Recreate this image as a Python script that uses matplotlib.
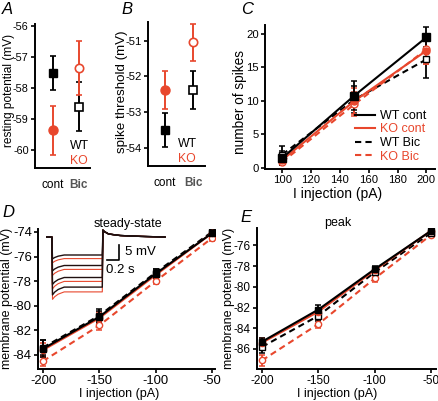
import matplotlib
matplotlib.use("Agg")
import matplotlib.pyplot as plt
from matplotlib.lines import Line2D
from matplotlib import font_manager
import numpy as np

plt.rcParams['font.family'] = ['Liberation Sans', 'DejaVu Sans']
plt.rcParams['font.size'] = 9
plt.rcParams['axes.unicode_minus'] = False

try:
    font_manager.findfont('Liberation Sans Narrow', fallback_to_default=False)
    NARROW = 'Liberation Sans Narrow'
    NSCALE = 1.0
except Exception:
    NARROW = 'Liberation Sans'
    NSCALE = 0.85

RED = '#E8472D'
BLK = '#000000'

# ---------------- data ----------------
# Panel A: resting potential (mV)
A_groups = ['cont', 'Bic']
A_wt = [-57.52, -58.60]
A_wt_err = [0.54, 0.78]
A_ko = [-59.37, -57.36]
A_ko_err = [0.79, 0.87]

# Panel B: spike threshold (mV)
B_wt = [-53.49, -52.38]
B_wt_err = [0.48, 0.54]
B_ko = [-52.38, -51.05]
B_ko_err = [0.54, 0.51]

# Panel C: number of spikes vs I injection
C_x = [100, 150, 200]
C_wt_cont = [1.5, 10.8, 19.5]
C_wt_cont_err = [1.0, 2.2, 1.5]
C_ko_cont = [1.2, 10.0, 17.5]
C_ko_cont_err = [0.6, 2.0, 2.0]
C_wt_bic = [2.0, 10.2, 16.2]
C_wt_bic_err = [1.3, 2.0, 2.8]
C_ko_bic = [0.9, 9.5, 17.7]
C_ko_bic_err = [0.5, 1.8, 2.2]

# Panel D: steady-state membrane potential
DE_x = [-200, -150, -100, -50]
D_wt_cont = [-83.5, -80.9, -77.4, -74.1]
D_wt_cont_err = [0.7, 0.5, 0.35, 0.25]
D_ko_cont = [-83.6, -81.0, -77.5, -74.1]
D_ko_cont_err = [0.6, 0.5, 0.3, 0.2]
D_wt_bic = [-83.4, -80.8, -77.3, -74.0]
D_wt_bic_err = [0.6, 0.5, 0.3, 0.2]
D_ko_bic = [-84.5, -81.6, -78.0, -74.5]
D_ko_bic_err = [0.4, 0.35, 0.25, 0.2]

# Panel E: peak membrane potential
E_wt_cont = [-85.3, -82.2, -78.3, -74.6]
E_wt_cont_err = [0.4, 0.4, 0.3, 0.2]
E_ko_cont = [-85.4, -82.4, -78.4, -74.6]
E_ko_cont_err = [0.5, 0.4, 0.3, 0.2]
E_wt_bic = [-85.8, -82.8, -78.6, -74.8]
E_wt_bic_err = [0.6, 0.5, 0.3, 0.2]
E_ko_bic = [-87.1, -83.6, -79.2, -75.0]
E_ko_bic_err = [0.5, 0.4, 0.3, 0.2]

# Inset traces (relative mV): steady level and initial sag per step
trace_black_level = [-6.0, -9.5, -13.5, -16.7]
trace_black_sag = [-7.3, -11.3, -15.8, -19.3]
trace_red_level = [-7.2, -10.8, -14.8, -18.3]
trace_red_sag = [-8.6, -12.8, -17.3, -20.8]
trace_t = [0.03, 0.115, 0.125, 0.16, 0.22, 0.32, 0.50, 0.955, 0.965, 0.99, 1.06, 1.25, 1.60, 2.00]

# ---------------- figure ----------------
W, H = 438, 401
fig = plt.figure(figsize=(W / 100, H / 100), dpi=100)


def ax_px(l, t, r, b):
    return fig.add_axes([l / W, 1 - b / H, (r - l) / W, (b - t) / H])


def style(ax, fs):
    for s in ['top', 'right']:
        ax.spines[s].set_visible(False)
    for s in ['left', 'bottom']:
        ax.spines[s].set_linewidth(1.4)
    ax.tick_params(direction='out', length=3, width=1.2, labelsize=fs * NSCALE, pad=1.5)


def narrow_ticks(ax, which='both'):
    lbls = []
    if which in ('both', 'y'):
        lbls += ax.get_yticklabels()
    if which in ('both', 'x'):
        lbls += ax.get_xticklabels()
    for t in lbls:
        t.set_fontfamily(NARROW)


def panel_letter(x, y, s):
    fig.text(x / W, 1 - y / H, s, fontsize=12, style='italic', ha='left', va='center')


def ylab(ax, s, x_px, y_px, fs):
    ax.set_ylabel(s, fontsize=fs)
    ax.yaxis.set_label_coords(x_px / W, 1 - y_px / H, transform=fig.transFigure)
    ax.yaxis.label.set_verticalalignment('center')


def xlab(ax, s, x_px, y_px, fs):
    ax.set_xlabel(s, fontsize=fs)
    ax.xaxis.set_label_coords(x_px / W, 1 - y_px / H, transform=fig.transFigure)
    ax.xaxis.label.set_verticalalignment('center')


def group_panel(ax, wt, wt_err, ko, ko_err):
    xs = np.arange(len(A_groups))
    ek = dict(capsize=2, elinewidth=1.4, capthick=1.2, ls='none')
    ax.errorbar(xs[0], wt[0], yerr=wt_err[0], color=BLK, marker='s', ms=6, mfc=BLK, mec=BLK, **ek)
    ax.errorbar(xs[1], wt[1], yerr=wt_err[1], color=BLK, marker='s', ms=6, mfc='white', mec=BLK, mew=1.2, **ek)
    ax.errorbar(xs[0], ko[0], yerr=ko_err[0], color=RED, marker='o', ms=6.5, mfc=RED, mec=RED, **ek)
    ax.errorbar(xs[1], ko[1], yerr=ko_err[1], color=RED, marker='o', ms=6, mfc='white', mec=RED, mew=1.2, **ek)
    ax.set_xticks(xs)
    ax.set_xticklabels(A_groups, fontsize=8.5)
    ax.tick_params(axis='x', length=0, pad=8)
    lbls = ax.get_xticklabels()
    lbls[1].set_fontweight('bold')
    lbls[1].set_color('#555555')


# Panel A
axA = ax_px(35, 24, 90, 168)
style(axA, 9.2)
group_panel(axA, A_wt, A_wt_err, A_ko, A_ko_err)
axA.set_xlim(-0.67, 1.42)
axA.set_ylim(-60.58, -55.94)
axA.set_yticks([-56, -57, -58, -59, -60])
narrow_ticks(axA, 'y')
ylab(axA, 'resting potential (mV)', 9.5, 90, 8.6)
fig.text(79 / W, 1 - 146 / H, 'WT', ha='center', va='center', fontsize=8.8, color=BLK)
fig.text(79 / W, 1 - 161 / H, 'KO', ha='center', va='center', fontsize=8.8, color=RED)
panel_letter(2, 9, 'A')

# Panel B
axB = ax_px(148, 22, 205, 166)
style(axB, 9.5)
group_panel(axB, B_wt, B_wt_err, B_ko, B_ko_err)
axB.set_xlim(-0.6, 1.42)
axB.set_ylim(-54.5, -50.48)
axB.set_yticks([-51, -52, -53, -54])
narrow_ticks(axB, 'y')
ylab(axB, 'spike threshold (mV)', 122.5, 92, 9.6)
fig.text(187 / W, 1 - 144 / H, 'WT', ha='center', va='center', fontsize=8.8, color=BLK)
fig.text(187 / W, 1 - 159 / H, 'KO', ha='center', va='center', fontsize=8.8, color=RED)
panel_letter(121, 9, 'B')

# Panel C
axC = ax_px(265, 25, 435, 169)
style(axC, 9.5)
ek = dict(capsize=2, elinewidth=1.3, capthick=1.1)
axC.errorbar(C_x, C_wt_bic, yerr=C_wt_bic_err, color=BLK, ls='--', lw=1.5, marker='s', ms=5, mfc='white', mec=BLK, **ek, dashes=(3, 2))
axC.errorbar(C_x, C_ko_bic, yerr=C_ko_bic_err, color=RED, ls='--', lw=1.5, marker='o', ms=5, mfc='white', mec=RED, **ek, dashes=(3, 2))
axC.errorbar(C_x, C_ko_cont, yerr=C_ko_cont_err, color=RED, ls='-', lw=1.5, marker='o', ms=5, mfc=RED, mec=RED, **ek)
axC.errorbar(C_x, C_wt_cont, yerr=C_wt_cont_err, color=BLK, ls='-', lw=1.5, marker='s', ms=5.5, mfc=BLK, mec=BLK, **ek)
axC.set_xlim(88, 206)
axC.set_ylim(-0.15, 21.34)
axC.set_xticks([100, 120, 140, 160, 180, 200])
axC.set_yticks([0, 5, 10, 15, 20])
narrow_ticks(axC)
xlab(axC, 'I injection (pA)', 338, 194, 10)
ylab(axC, 'number of spikes', 240, 102, 9.8)
handles = [Line2D([], [], color=BLK, lw=1.5),
           Line2D([], [], color=RED, lw=1.5),
           Line2D([], [], color=BLK, lw=1.5, ls='--', dashes=(3, 2)),
           Line2D([], [], color=RED, lw=1.5, ls='--', dashes=(3, 2))]
leg = axC.legend(handles, ['WT cont', 'KO cont', 'WT Bic', 'KO Bic'], frameon=False,
                 loc='upper left', bbox_to_anchor=(355 / W, 1 - 110 / H), bbox_transform=fig.transFigure,
                 handlelength=1.6, handletextpad=0.4, labelspacing=0.12, fontsize=9,
                 borderaxespad=0, borderpad=0)
for txt, c in zip(leg.get_texts(), [BLK, RED, BLK, RED]):
    txt.set_color(c)
panel_letter(241, 9, 'C')


def line_panel(ax, wc, wce, kc, kce, wb, wbe, kb, kbe):
    ek = dict(capsize=2, elinewidth=1.3, capthick=1.1)
    ax.errorbar(DE_x, kb, yerr=kbe, color=RED, ls='--', lw=1.5, dashes=(3, 2), marker='o', ms=4.5, mfc='white', mec=RED, **ek)
    ax.errorbar(DE_x, wb, yerr=wbe, color=BLK, ls='--', lw=1.5, dashes=(3, 2), marker='s', ms=4.5, mfc='white', mec=BLK, **ek)
    ax.errorbar(DE_x, kc, yerr=kce, color=RED, ls='-', lw=1.5, marker='o', ms=4.5, mfc=RED, mec=RED, **ek)
    ax.errorbar(DE_x, wc, yerr=wce, color=BLK, ls='-', lw=1.5, marker='s', ms=5, mfc=BLK, mec=BLK, **ek)
    ax.set_xticks([-200, -150, -100, -50])


# Panel D
axD = ax_px(38, 229, 215, 369)
style(axD, 11)
line_panel(axD, D_wt_cont, D_wt_cont_err, D_ko_cont, D_ko_cont_err,
           D_wt_bic, D_wt_bic_err, D_ko_bic, D_ko_bic_err)
axD.set_xlim(-204.4, -47.3)
axD.set_ylim(-85.14, -73.76)
axD.set_yticks([-74, -76, -78, -80, -82, -84])
narrow_ticks(axD)
xlab(axD, 'I injection (pA)', 119, 394, 9)
ylab(axD, 'membrane potential (mV)', 7, 298, 9)
panel_letter(2, 212, 'D')
fig.text(128 / W, 1 - 224 / H, 'steady-state', ha='center', va='center', fontsize=9)

# Inset traces
axI = fig.add_axes([45 / W, 1 - 302 / H, 125 / W, 80 / H])
axI.axis('off')
axI.set_xlim(0, 125 / 60)
axI.set_ylim(5 - 80 / 3, 5)


def trace_v(L, S):
    return [0, 0, S, S + 0.35 * (L - S), S + 0.7 * (L - S), L, L, L,
            2.3, 1.8, 1.0, 0.5, 0.2, 0.0]


for L, S in zip(trace_red_level, trace_red_sag):
    axI.plot(trace_t, trace_v(L, S), color=RED, lw=0.8)
for L, S in zip(trace_black_level, trace_black_sag):
    axI.plot(trace_t, trace_v(L, S), color='#201010', lw=1.0)
# scale bar
axI.plot([1.033, 1.233, 1.233], [-7.67, -7.67, -2.67], color=BLK, lw=1.2)
axI.text(1.33, -5.0, '5 mV', ha='left', va='center', fontsize=9.5)
axI.text(1.02, -11.0, '0.2 s', ha='left', va='center', fontsize=9.5)

# Panel E
axE = ax_px(257, 228, 436, 369)
style(axE, 10)
line_panel(axE, E_wt_cont, E_wt_cont_err, E_ko_cont, E_ko_cont_err,
           E_wt_bic, E_wt_bic_err, E_ko_bic, E_ko_bic_err)
axE.set_xlim(-204.4, -45.6)
axE.set_ylim(-87.93, -74.33)
axE.set_yticks([-76, -78, -80, -82, -84, -86])
narrow_ticks(axE)
xlab(axE, 'I injection (pA)', 337, 394, 9)
ylab(axE, 'membrane potential (mV)', 229, 298, 9)
panel_letter(240, 217, 'E')
fig.text(338 / W, 1 - 223 / H, 'peak', ha='center', va='center', fontsize=9)

fig.savefig('out.png', dpi=100)
